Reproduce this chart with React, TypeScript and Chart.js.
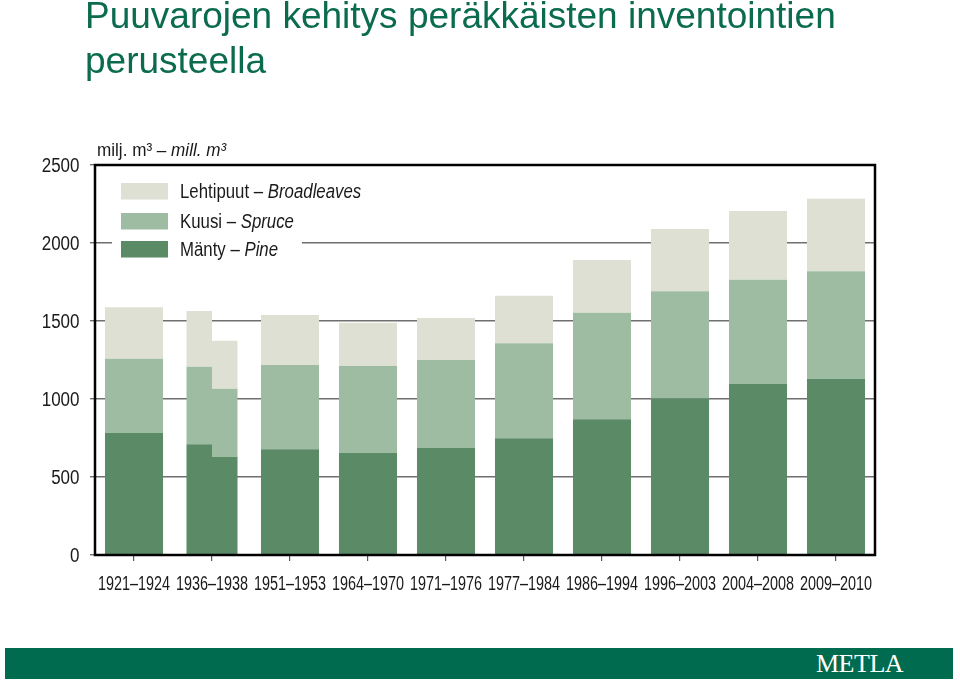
import React, { useEffect, useRef } from "react";
import { Chart, registerables } from "chart.js";

Chart.register(...registerables);

const categories = [
  "1921–1924", "1936–1938", "1951–1953", "1964–1970", "1971–1976",
  "1977–1984", "1986–1994", "1996–2003", "2004–2008", "2009–2010",
];
// Main bars (the 1936–1938 inventory is drawn as two half bars below)
const pine = [782, null, 678, 656, 686, 748, 870, 1004, 1098, 1130];
const spruce = [476, null, 540, 556, 564, 609, 683, 686, 667, 689];
const broadleaves = [330, null, 320, 277, 269, 305, 338, 400, 440, 465];
// 1936–1938: two partial bars (left, right)
const split1936Index = 1;
const pine1936 = [710, 630];
const spruce1936 = [497, 436];
const broadleaves1936 = [357, 308];

const yTicks = [0, 500, 1000, 1500, 2000, 2500];

const legendItems = [
  { fi: "Lehtipuut", en: "Broadleaves", color: "#dde0d2" },
  { fi: "Kuusi", en: "Spruce", color: "#9ebca1" },
  { fi: "Mänty", en: "Pine", color: "#5b8a67" },
];

const COLORS = { pine: "#5b8a67", spruce: "#9ebca1", broad: "#dde0d2" };
const SANS = '"Liberation Sans", Arial, sans-serif';
const TEXT = "#1a1a1a";

function onlyAt(idx: number, v: number) {
  return categories.map((_, i) => (i === idx ? v : null));
}

// draw horizontally condensed text (imitates Arial Narrow)
function narrowText(ctx: CanvasRenderingContext2D, text: string, x: number, y: number, sx: number, font: string, align: CanvasTextAlign = "left") {
  ctx.save();
  ctx.font = font;
  ctx.textAlign = align;
  ctx.textBaseline = "alphabetic";
  ctx.translate(x, y);
  ctx.scale(sx, 1);
  ctx.fillText(text, 0, 0);
  const w = ctx.measureText(text).width * sx;
  ctx.restore();
  return w;
}

const framePlugin = {
  id: "framePlugin",
  beforeDatasetsDraw(chart: any) {
    const { ctx } = chart;
    ctx.save();
    // white legend background masking grid
    ctx.fillStyle = "#ffffff";
    ctx.fillRect(112, 172, 190, 92);
    const boxYs = [183, 213, 241];
    legendItems.forEach((it, i) => {
      const y = boxYs[i];
      ctx.fillStyle = it.color;
      ctx.fillRect(121, y, 47, 16.5);
      ctx.fillStyle = TEXT;
      const base = y + 15.3;
      const w = narrowText(ctx, `${it.fi} – `, 180, base, 0.84, `20px ${SANS}`);
      narrowText(ctx, it.en, 180 + w, base, 0.84, `italic 20px ${SANS}`);
    });
    // unit label
    ctx.fillStyle = TEXT;
    const uw = narrowText(ctx, "milj. m³ – ", 97, 156, 0.9, `19px ${SANS}`);
    narrowText(ctx, "mill. m³", 97 + uw, 156, 0.9, `italic 19px ${SANS}`);
    ctx.restore();
  },
  afterDatasetsDraw(chart: any) {
    const { ctx, chartArea } = chart;
    ctx.save();
    ctx.strokeStyle = "#000";
    ctx.lineWidth = 2.5;
    ctx.strokeRect(chartArea.left, chartArea.top, chartArea.right - chartArea.left, chartArea.bottom - chartArea.top);
    // axis tick labels via the chart's own scales
    const xs = chart.scales.x;
    const ys = chart.scales.y;
    ctx.fillStyle = TEXT;
    (chart.data.labels as string[]).forEach((lab, i) => {
      narrowText(ctx, lab, xs.getPixelForTick(i), 589.5, 0.72, `20px ${SANS}`, "center");
    });
    ys.ticks.forEach((t: any) => {
      narrowText(ctx, String(t.value), 79.5, ys.getPixelForValue(t.value) + 7.2, 0.85, `20px ${SANS}`, "right");
    });
    ctx.restore();
  },
};

export default function App() {
  const ref = useRef<HTMLCanvasElement | null>(null);
  useEffect(() => {
    if (!ref.current) return;
    const mainOpts = { stack: "main", categoryPercentage: 0.744, barPercentage: 1, skipNull: true, borderWidth: 0 };
    const splitOpts = { categoryPercentage: 0.654, barPercentage: 1, skipNull: true, borderWidth: 0 };
    const chart = new Chart(ref.current, {
      type: "bar",
      data: {
        labels: categories,
        datasets: [
          { label: "Mänty – Pine", data: pine, backgroundColor: COLORS.pine, ...mainOpts },
          { label: "Kuusi – Spruce", data: spruce, backgroundColor: COLORS.spruce, ...mainOpts },
          { label: "Lehtipuut – Broadleaves", data: broadleaves, backgroundColor: COLORS.broad, ...mainOpts },
          { label: "Mänty a", data: onlyAt(split1936Index, pine1936[0]), backgroundColor: COLORS.pine, stack: "a", ...splitOpts },
          { label: "Kuusi a", data: onlyAt(split1936Index, spruce1936[0]), backgroundColor: COLORS.spruce, stack: "a", ...splitOpts },
          { label: "Lehtipuut a", data: onlyAt(split1936Index, broadleaves1936[0]), backgroundColor: COLORS.broad, stack: "a", ...splitOpts },
          { label: "Mänty b", data: onlyAt(split1936Index, pine1936[1]), backgroundColor: COLORS.pine, stack: "b", ...splitOpts },
          { label: "Kuusi b", data: onlyAt(split1936Index, spruce1936[1]), backgroundColor: COLORS.spruce, stack: "b", ...splitOpts },
          { label: "Lehtipuut b", data: onlyAt(split1936Index, broadleaves1936[1]), backgroundColor: COLORS.broad, stack: "b", ...splitOpts },
        ] as any,
      },
      options: {
        animation: false,
        responsive: false,
        maintainAspectRatio: false,
        layout: { padding: { left: 0, top: 165, right: 85, bottom: 0 } },
        plugins: { legend: { display: false }, tooltip: { enabled: false }, title: { display: false } },
        scales: {
          x: {
            offset: true,
            grid: { display: true, drawOnChartArea: false, drawTicks: true, tickLength: 6, offset: false, color: "#555", lineWidth: 1.2 },
            border: { display: false },
            ticks: { display: false, autoSkip: false },
            afterFit: (s: any) => { s.height = 126; },
          },
          y: {
            stacked: true,
            min: 0,
            max: 2500,
            afterBuildTicks: (s: any) => { s.ticks = yTicks.map((v) => ({ value: v })); },
            grid: { color: "#6f6f6f", lineWidth: 1.4, drawTicks: true, tickLength: 5 },
            border: { display: false },
            ticks: { display: false },
            afterFit: (s: any) => { s.width = 95; },
          },
        },
      },
      plugins: [framePlugin],
    });
    return () => chart.destroy();
  }, []);

  return (
    <div style={{ position: "absolute", left: 0, top: 0, width: 960, height: 681, overflow: "hidden", background: "#fff" }}>
      <canvas ref={ref} width={960} height={681} style={{ position: "absolute", left: 0, top: 0, width: 960, height: 681 }} />
      <div
        style={{
          position: "absolute",
          left: 85,
          top: -7,
          width: 860,
          fontFamily: SANS,
          fontSize: 37,
          lineHeight: "45px",
          color: "#0b6b4e",
        }}
      >
        Puuvarojen kehitys peräkkäisten inventointien perusteella
      </div>
      <div
        style={{
          position: "absolute",
          left: 5,
          top: 648,
          width: 948,
          height: 31,
          background: "#006b4f",
        }}
      >
        <span
          style={{
            position: "absolute",
            left: 811,
            top: 1,
            fontFamily: '"Liberation Serif", "Times New Roman", serif',
            fontSize: 26,
            lineHeight: "30px",
            color: "#ffffff",
            letterSpacing: -0.5,
          }}
        >
          METLA
        </span>
      </div>
    </div>
  );
}
